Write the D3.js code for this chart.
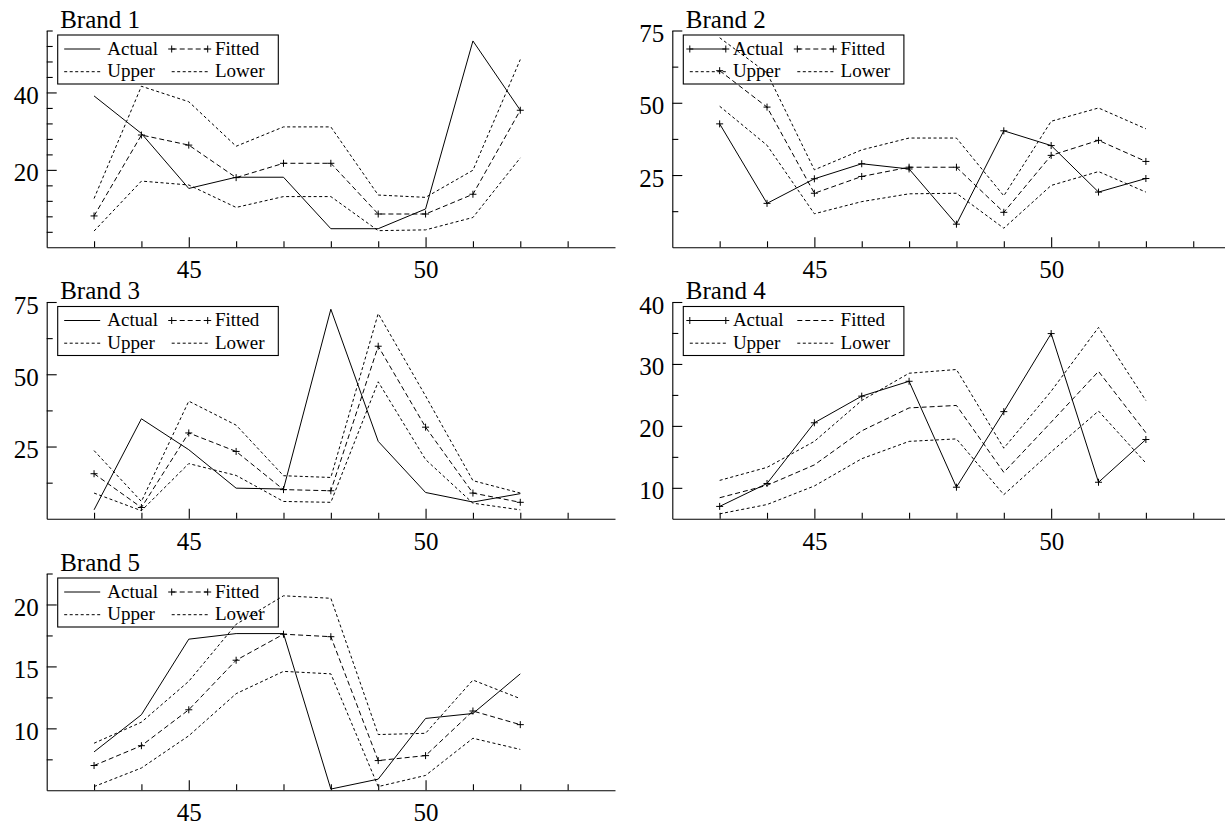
<!DOCTYPE html>
<html>
<head>
<meta charset="utf-8">
<script src="https://cdn.jsdelivr.net/npm/d3@7"></script>
<style>
  html, body { margin: 0; padding: 0; background: #fff; }
  svg { display: block; }
  text { font-family: "Liberation Serif", "Times New Roman", serif; fill: #000; }
</style>
</head>
<body>
<div id="chart"></div>
<script>
// dados (semanas 43..52)
const weeks = [43, 44, 45, 46, 47, 48, 49, 50, 51, 52];
const brandNames = ["Brand 1", "Brand 2", "Brand 3", "Brand 4", "Brand 5"];

const actual = [
  [39.1, 29.4, 15.2, 18.1, 18.1, 4.8, 4.8, 9.9, 53.3, 35.4],
  [42.7, 15.2, 23.7, 28.9, 27.1, 8.0, 40.3, 35.2, 19.1, 23.8],
  [3.1, 34.6, 23.9, 10.6, 10.3, 72.5, 26.8, 9.1, 5.8, 8.7],
  [7.0, 10.7, 20.5, 24.8, 27.2, 10.1, 22.3, 34.9, 10.9, 17.8],
  [8.1, 11.1, 17.2, 17.65, 17.65, 5.1, 5.9, 10.8, 11.2, 14.4]
];
const fitted = [
  [8.1, 29.0, 26.4, 18.0, 21.7, 21.7, 8.6, 8.6, 13.7, 35.4],
  [61.1, 48.5, 18.7, 24.5, 27.7, 27.7, 12.1, 31.8, 37.0, 29.7],
  [15.6, 3.9, 29.7, 23.3, 10.1, 9.7, 59.7, 31.7, 8.9, 5.7],
  [8.4, 10.4, 13.7, 19.2, 22.9, 23.3, 12.5, 20.6, 28.8, 18.9],
  [7.0, 8.6, 11.5, 15.5, 17.6, 17.4, 7.4, 7.8, 11.4, 10.3]
];
const upper = [
  [12.6, 41.6, 37.6, 26.1, 31.1, 31.1, 13.5, 12.9, 19.9, 48.5],
  [72.5, 60.3, 26.8, 33.7, 37.8, 37.8, 17.8, 43.6, 48.2, 41.0],
  [23.6, 6.0, 40.7, 32.4, 14.9, 14.3, 71.0, 42.5, 13.2, 8.9],
  [11.2, 13.3, 17.5, 24.1, 28.5, 29.1, 16.4, 25.6, 35.9, 24.1],
  [8.8, 10.5, 13.8, 18.4, 20.7, 20.5, 9.5, 9.6, 13.9, 12.4]
];
const lower = [
  [4.2, 17.1, 16.1, 10.3, 13.1, 13.1, 4.3, 4.5, 7.7, 23.1],
  [48.8, 35.3, 11.6, 15.8, 18.5, 18.7, 6.6, 21.4, 26.2, 19.1],
  [8.9, 2.8, 19.1, 15.0, 6.0, 5.7, 47.4, 20.5, 5.4, 3.1],
  [5.8, 7.3, 10.3, 14.7, 17.5, 17.9, 8.9, 15.8, 22.4, 14.0],
  [5.3, 6.8, 9.4, 12.8, 14.6, 14.4, 5.3, 6.2, 9.2, 8.3]
];

// quais series levam marcadores "+"
const actualMarked = [false, true, false, true, false];
const fittedMarked = [true, true, true, false, true];

// eixos
const xDomain = [42, 54];
const xMajor = [45, 50];
const xMinor = [43, 44, 46, 47, 48, 49, 51, 52, 53];
const yDomains = [[0, 56], [0, 75], [0, 75], [5, 40], [5, 22.5]];
const yMajor = [[20, 40], [25, 50, 75], [25, 50, 75], [10, 20, 30, 40], [10, 15, 20]];
const yMinor = [
  [4, 8, 12, 16, 24, 28, 32, 36, 44, 48, 52, 56],
  [12.5, 37.5, 62.5],
  [12.5, 37.5, 62.5],
  [15, 25, 35],
  [7.5, 12.5, 17.5, 22.5]
];

// layout
const W = 1225, H = 829;
const colX = [0, 625.6];
const rowY = [0, 271.5, 543];
const plot = { left: 46.7, top: 30.5, width: 568.3, height: 216.8 };

const svg = d3.select("#chart").append("svg")
  .attr("width", W)
  .attr("height", H);

const dashFitted = "5,3";
const dashBand = "3,2.5";

function plus(g, px, py) {
  const s = 3.5;
  g.append("path")
    .attr("d", `M${px - s},${py}H${px + s}M${px},${py - s}V${py + s}`)
    .attr("stroke", "#000")
    .attr("stroke-width", 1)
    .attr("fill", "none");
}

brandNames.forEach((name, i) => {
  const panel = svg.append("g")
    .attr("transform", `translate(${colX[i % 2]},${rowY[Math.floor(i / 2)]})`);
  const g = panel.append("g")
    .attr("transform", `translate(${plot.left},${plot.top})`);

  const x = d3.scaleLinear().domain(xDomain).range([0, plot.width]);
  const y = d3.scaleLinear().domain(yDomains[i]).range([plot.height, 0]);

  // eixo x (ticks para dentro)
  g.append("g")
    .attr("transform", `translate(0,${plot.height})`)
    .call(d3.axisBottom(x).tickValues(xMinor).tickSize(-6).tickSizeOuter(0).tickFormat(""))
    .call(a => a.select(".domain").remove());
  g.append("g")
    .attr("transform", `translate(0,${plot.height})`)
    .call(d3.axisBottom(x).tickValues(xMajor).tickSize(-10).tickSizeOuter(0).tickFormat(d3.format("d")))
    .call(a => a.selectAll("text").attr("y", 31).attr("dy", null)
      .style("font-size", "25px").style("font-family", '"Liberation Serif", serif'));

  // eixo y
  g.append("g")
    .call(d3.axisLeft(y).tickValues(yMinor[i]).tickSize(-6).tickSizeOuter(0).tickFormat(""))
    .call(a => a.select(".domain").remove());
  g.append("g")
    .call(d3.axisLeft(y).tickValues(yMajor[i]).tickSize(-10).tickSizeOuter(0).tickPadding(8).tickFormat(d3.format("d")))
    .call(a => a.selectAll("text").attr("dy", "0.44em")
      .style("font-size", "25px").style("font-family", '"Liberation Serif", serif'));

  g.selectAll(".domain, .tick line").attr("stroke", "#000").attr("stroke-width", 1.1);

  const line = d3.line().x((d, j) => x(weeks[j])).y(d => y(d));

  const series = [
    { vals: upper[i], dash: dashBand, marked: false },
    { vals: lower[i], dash: dashBand, marked: false },
    { vals: fitted[i], dash: dashFitted, marked: fittedMarked[i] },
    { vals: actual[i], dash: null, marked: actualMarked[i] }
  ];

  series.forEach(s => {
    g.append("path")
      .datum(s.vals)
      .attr("d", line)
      .attr("fill", "none")
      .attr("stroke", "#000")
      .attr("stroke-width", 1)
      .attr("stroke-dasharray", s.dash);
    if (s.marked) {
      s.vals.forEach((v, j) => plus(g, x(weeks[j]), y(v)));
    }
  });

  // titulo
  panel.append("text")
    .attr("x", plot.left + 13.5)
    .attr("y", 27.5)
    .style("font-size", "25px")
    .text(name);

  // legenda
  const lg = panel.append("g").attr("transform", `translate(${plot.left + 11},35)`);
  lg.append("rect")
    .attr("width", 220.6)
    .attr("height", 49)
    .attr("fill", "none")
    .attr("stroke", "#000")
    .attr("stroke-width", 1.1);

  const items = [
    { label: "Actual", dash: null, marked: actualMarked[i], col: 0, row: 0 },
    { label: "Fitted", dash: dashFitted, marked: fittedMarked[i], col: 1, row: 0 },
    { label: "Upper", dash: dashBand, marked: false, col: 0, row: 1 },
    { label: "Lower", dash: dashBand, marked: false, col: 1, row: 1 }
  ];
  const colOff = [6.5, 114];
  const textOff = [49.6, 157.3];
  const rowOff = [14, 36.7];

  items.forEach(it => {
    const x0 = colOff[it.col], x1 = x0 + 36, yy = rowOff[it.row];
    lg.append("line")
      .attr("x1", x0).attr("x2", x1)
      .attr("y1", yy).attr("y2", yy)
      .attr("stroke", "#000")
      .attr("stroke-width", 1)
      .attr("stroke-dasharray", it.dash);
    if (it.marked) {
      plus(lg, x0, yy);
      plus(lg, x1, yy);
    }
    lg.append("text")
      .attr("x", textOff[it.col])
      .attr("y", yy + 5.5)
      .style("font-size", "19px")
      .text(it.label);
  });
});
</script>
</body>
</html>
